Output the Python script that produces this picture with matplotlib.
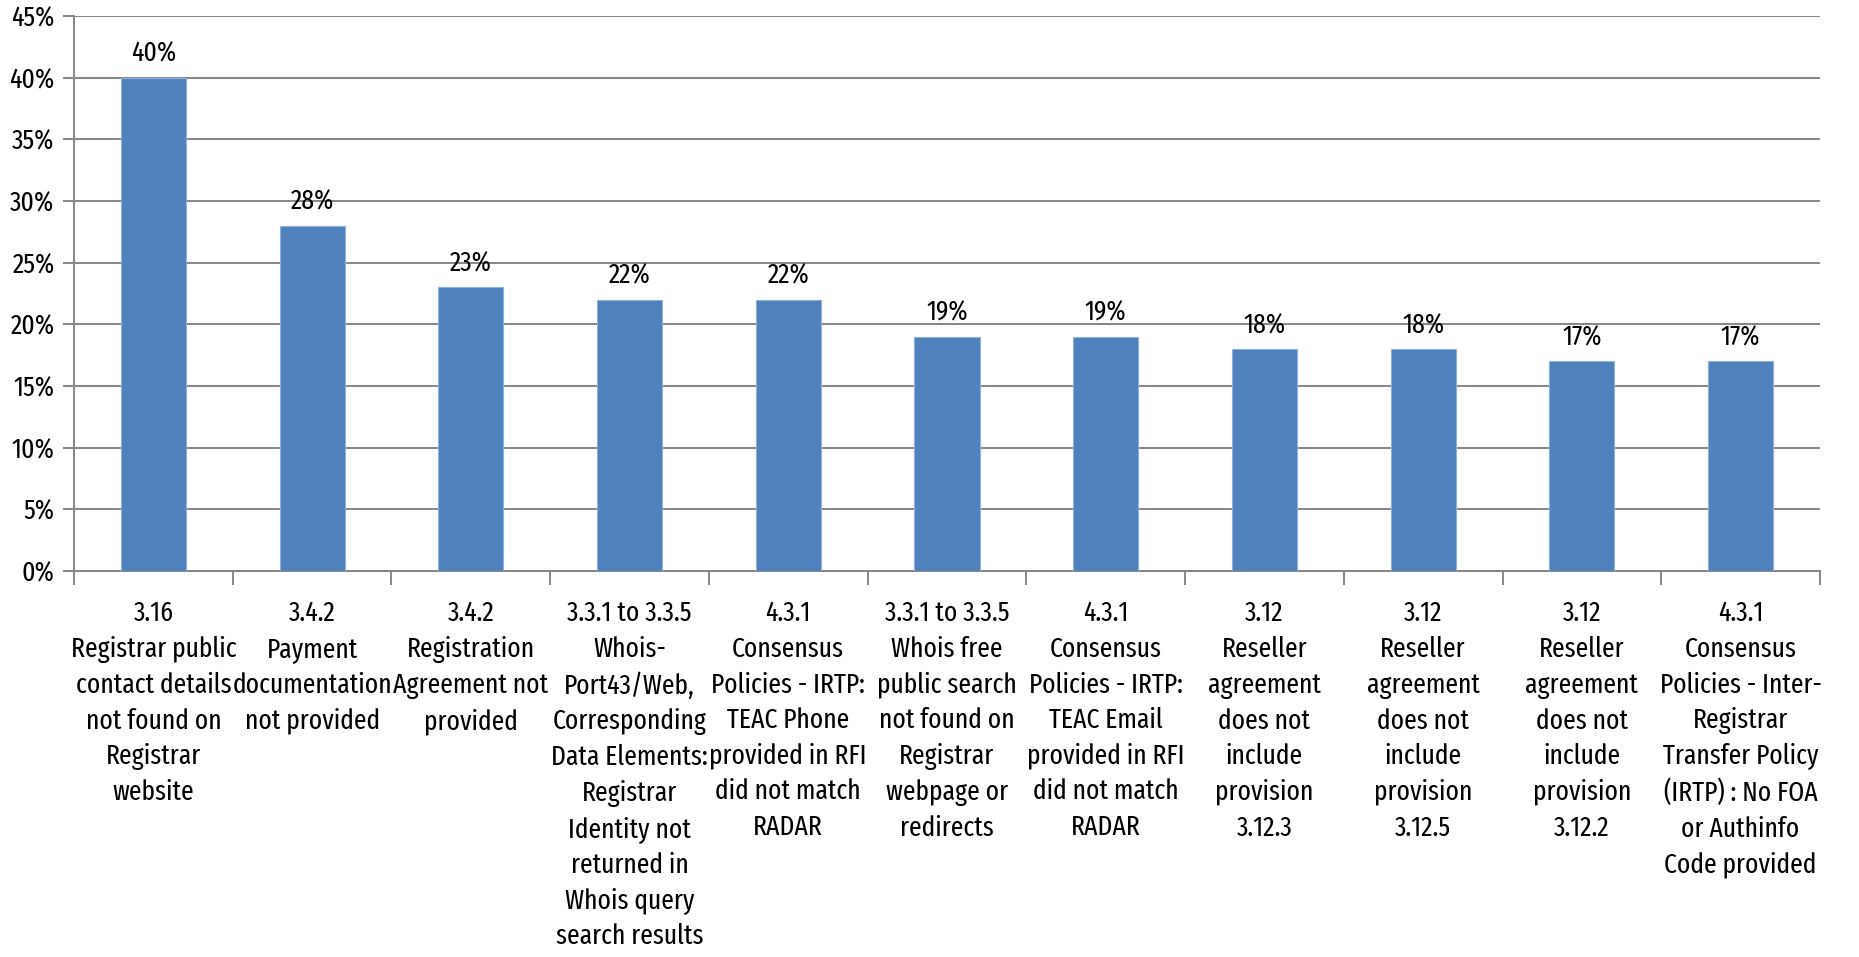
import matplotlib
matplotlib.use("Agg")
import matplotlib.pyplot as plt
from matplotlib import font_manager
from matplotlib.ticker import FuncFormatter, MultipleLocator

names = {f.name for f in font_manager.fontManager.ttflist}
fam = ["Fira Sans Extra Condensed", "Roboto Condensed", "Liberation Sans"]
fam = [f for f in fam if f in names][:1] + ["DejaVu Sans"]
plt.rcParams['font.family'] = fam

categories = [
    "3.16\nRegistrar public\ncontact details\nnot found on\nRegistrar\nwebsite",
    "3.4.2\nPayment\ndocumentation\nnot provided",
    "3.4.2\nRegistration\nAgreement not\nprovided",
    "3.3.1 to 3.3.5\nWhois-\nPort43/Web,\nCorresponding\nData Elements:\nRegistrar\nIdentity not\nreturned in\nWhois query\nsearch results",
    "4.3.1\nConsensus\nPolicies - IRTP:\nTEAC Phone\nprovided in RFI\ndid not match\nRADAR",
    "3.3.1 to 3.3.5\nWhois free\npublic search\nnot found on\nRegistrar\nwebpage or\nredirects",
    "4.3.1\nConsensus\nPolicies - IRTP:\nTEAC Email\nprovided in RFI\ndid not match\nRADAR",
    "3.12\nReseller\nagreement\ndoes not\ninclude\nprovision\n3.12.3",
    "3.12\nReseller\nagreement\ndoes not\ninclude\nprovision\n3.12.5",
    "3.12\nReseller\nagreement\ndoes not\ninclude\nprovision\n3.12.2",
    "4.3.1\nConsensus\nPolicies - Inter-\nRegistrar\nTransfer Policy\n(IRTP) : No FOA\nor Authinfo\nCode provided",
]
values = [40, 28, 23, 22, 22, 19, 19, 18, 18, 17, 17]

FS = 20

fig = plt.figure(figsize=(18.59, 9.57), dpi=100)
ax = fig.add_axes([0.0398, 0.4033, 0.9392, 0.58])

x = list(range(len(values)))
ax.bar(x, values, width=0.41, color="#4F81BD", edgecolor="#8EB1DB",
       linewidth=0.8, zorder=3)
for xi, v in zip(x, values):
    ax.annotate(f"{v}%", (xi, v), xytext=(0, 7.5), textcoords="offset points",
                ha="center", va="bottom", fontsize=FS)

ax.set_xlim(-0.5, len(values) - 0.5)
ax.set_ylim(0, 45)
ax.yaxis.set_major_locator(MultipleLocator(5))
ax.yaxis.set_major_formatter(FuncFormatter(lambda v, p: f"{v:.0f}%"))
ax.grid(axis="y", color="#868686", linewidth=1.4, zorder=0)
ax.set_axisbelow(True)

for s in ["top", "right"]:
    ax.spines[s].set_visible(False)
for s in ["left", "bottom"]:
    ax.spines[s].set_color("#868686")
    ax.spines[s].set_linewidth(1.4)

ax.tick_params(axis="y", length=8, width=1.4, color="#868686", labelsize=FS, pad=6)
ax.set_xticks([i - 0.5 for i in range(len(values) + 1)], minor=False)
ax.set_xticklabels([])
ax.tick_params(axis="x", which="major", length=10, width=1.4, color="#868686")
ax.set_xticks(x, minor=True)
ax.set_xticklabels(categories, minor=True, fontsize=FS, linespacing=1.42,
                   va="top", ha="center")
ax.tick_params(axis="x", which="minor", length=0, pad=21)

fig.savefig("out.png", dpi=100, facecolor="white")
